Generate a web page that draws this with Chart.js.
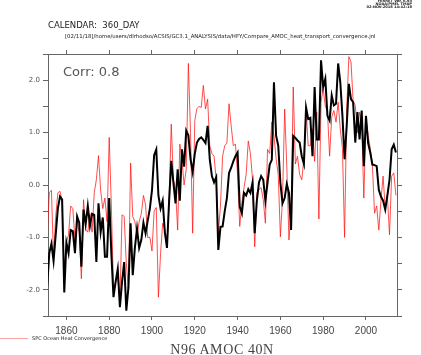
<!DOCTYPE html>
<html><head><meta charset="utf-8">
<script src="https://cdn.jsdelivr.net/npm/chart.js@4"></script>
<style>
html,body{margin:0;padding:0;background:#fff;}
#wrap{position:relative;width:421px;height:355px;overflow:hidden;background:#fff;}
canvas{position:absolute;left:0;top:0;}
.t{position:absolute;white-space:nowrap;font-family:"DejaVu Sans",sans-serif;color:#333;line-height:1;}
</style></head><body>
<div id="wrap">
<canvas id="c" width="421" height="355"></canvas>
<div class="t" style="right:9px;top:0px;font-size:3.6px;font-weight:bold;text-align:right;line-height:3.2px;color:#222;">FERRET Ver. 6.93<br>NOAA/PMEL TMAP<br>02-NOV-2018 14:42:18</div>
<div class="t" style="left:48px;top:21px;font-size:8.5px;color:#222;">CALENDAR:&nbsp; 360_DAY</div>
<div class="t" style="left:65px;top:34px;font-size:5.4px;color:#222;">[02/11/18]/home/users/dlrhodso/ACSIS/GC3.1_ANALYSIS/data/HFY/Compare_AMOC_heat_transport_convergence.jnl</div>
<div class="t" style="left:63px;top:65px;font-size:13px;color:#555;">Corr: 0.8</div>
<div style="position:absolute;left:0;top:338px;width:28px;height:1px;background:#f7a3a3;"></div>
<div class="t" style="left:32px;top:335.5px;font-size:5px;color:#222;">SPC Ocean Heat Convergence</div>
<div class="t" style="left:222px;top:343px;transform:translateX(-50%);font-family:'Liberation Serif',serif;font-size:14px;letter-spacing:0.6px;color:#444;">N96 AMOC 40N</div>
</div>
<script>
// ---- data ----
const years = [
1851,1852,1853,1854,1855,1856,1857,1858,1859,1860,
1861,1862,1863,1864,1865,1866,1867,1868,1869,1870,
1871,1872,1873,1874,1875,1876,1877,1878,1879,1880,
1881,1882,1883,1884,1885,1886,1887,1888,1889,1890,
1891,1892,1893,1894,1895,1896,1897,1898,1899,1900,
1901,1902,1903,1904,1905,1906,1907,1908,1909,1910,
1911,1912,1913,1914,1915,1916,1917,1918,1919,1920,
1921,1922,1923,1924,1925,1926,1927,1928,1929,1930,
1931,1932,1933,1934,1935,1936,1937,1938,1939,1940,
1941,1942,1943,1944,1945,1946,1947,1948,1949,1950,
1951,1952,1953,1954,1955,1956,1957,1958,1959,1960,
1961,1962,1963,1964,1965,1966,1967,1968,1969,1970,
1971,1972,1973,1974,1975,1976,1977,1978,1979,1980,
1981,1982,1983,1984,1985,1986,1987,1988,1989,1990,
1991,1992,1993,1994,1995,1996,1997,1998,1999,2000,
2001,2002,2003,2004,2005,2006,2007,2008,2009,2010,
2011,2012,2013,2014];

const amoc40N = [
-1.94,-1.30,-1.12,-1.45,-0.95,-0.45,-0.22,-0.28,-2.05,-1.10,
-1.30,-0.86,-0.88,-1.30,-0.60,-0.72,-1.56,-0.47,-0.75,-0.40,
-0.78,-0.55,-0.57,-1.47,-0.35,-0.90,-0.62,-1.37,-1.37,-0.25,
-1.30,-2.14,-1.85,-1.60,-2.33,-1.85,-1.47,-2.40,-1.95,-0.73,
-1.72,-1.20,-0.83,-1.20,-1.05,-0.72,-0.92,-0.68,-0.45,-0.10,
0.57,0.68,-0.20,-0.45,-0.30,-0.90,-1.20,-0.30,0.46,0.05,
-0.35,0.30,-0.30,0.68,0.35,1.04,0.95,0.50,0.25,0.60,
0.81,0.88,0.91,0.86,0.80,1.13,0.49,0.17,0.05,0.15,
-1.24,-0.80,-0.79,-0.50,-0.25,0.23,0.33,0.45,0.55,0.62,
-0.41,-0.54,-0.15,-0.20,-0.08,-0.15,0.05,-0.92,-0.30,0.05,
0.17,0.10,-0.30,0.05,0.39,0.48,1.96,0.94,0.75,0.04,
-0.35,-0.25,0.02,-0.15,-0.86,0.94,0.90,0.85,0.81,0.55,
0.40,1.48,1.26,1.28,0.55,1.87,0.87,0.87,2.38,1.87,
2.03,1.32,1.23,1.71,1.52,1.55,2.32,1.96,1.32,0.49,
1.13,1.93,1.64,1.58,0.81,1.39,0.87,1.42,0.36,1.32,
0.80,0.62,0.39,0.38,0.36,-0.09,-0.22,-0.30,-0.47,-0.20,
0.10,0.68,0.77,0.62];

const spcHeatConvergence = [
-1.00,-0.15,-0.10,-1.40,-0.60,-0.15,-0.12,-0.30,-1.69,-1.10,
-0.95,-0.40,-0.45,-1.05,-0.70,-0.90,-1.79,-0.28,-0.85,-0.90,
-0.55,-0.90,-0.15,0.10,0.56,-0.10,-0.45,-0.25,-0.70,0.91,
-0.40,-1.95,-1.85,-1.76,-2.25,-0.57,-0.60,-1.50,-2.00,0.42,
-0.60,-0.70,-0.95,-0.70,-0.55,-0.20,-0.38,-1.00,-1.00,-1.26,
-0.50,-0.43,-2.14,-1.31,-0.73,-0.85,-1.18,-0.28,1.16,0.10,
-0.10,-0.86,0.78,0.49,0.00,0.30,2.32,1.00,-0.92,1.23,
1.46,1.50,1.48,1.90,1.45,1.64,0.75,0.60,0.55,0.10,
-0.92,-0.40,0.55,0.75,0.80,1.55,1.13,0.75,0.78,0.20,
-0.79,-0.35,-0.05,0.20,0.84,0.60,0.10,-1.18,-0.15,-0.09,
-0.05,-0.28,-0.73,0.68,0.60,1.20,0.94,0.50,0.20,-0.99,
-0.25,1.45,0.36,-1.05,-0.50,1.87,0.40,0.55,0.20,0.10,
0.50,1.45,0.75,0.75,1.07,0.45,1.39,-0.65,1.58,1.84,
1.50,1.40,0.55,1.30,1.42,1.20,1.58,1.07,0.70,-1.00,
1.45,2.45,2.35,1.60,1.52,1.00,1.39,1.20,-0.25,1.26,
0.95,0.70,0.39,-0.54,-0.40,-0.86,-0.30,0.17,-0.45,-0.20,
-0.95,0.17,0.23,-0.20];

const xTickValues = [1860,1880,1900,1920,1940,1960,1980,2000];
const xTickLabels = ['1860','1880','1900','1920','1940','1960','1980','2000'];
const yTickValues = [-2.5,-2.0,-1.5,-1.0,-0.5,0.0,0.5,1.0,1.5,2.0,2.5];
const yTickLabels = ['','-2.0','','-1.0','','0.0','','1.0','','2.0',''];
const xRange = [1851.4, 2014.5];
const yRange = [-2.5, 2.5];

// ---- chart ----
const toPts = arr => years.map((yr, i) => ({x: yr, y: arr[i]}));
const setXTicks = s => { s.ticks = xTickValues.map(v => ({value: v})); };
const setYTicks = s => { s.ticks = yTickValues.map(v => ({value: v})); };
const axisCol = '#666';

new Chart(document.getElementById('c'), {
  type: 'line',
  data: {
    datasets: [
      {label: 'AMOC 40N', data: toPts(amoc40N), borderColor: '#000', borderWidth: 2, pointRadius: 0, tension: 0},
      {label: 'SPC Ocean Heat Convergence', data: toPts(spcHeatConvergence), borderColor: 'rgba(255,20,20,0.75)', borderWidth: 1, pointRadius: 0, tension: 0}
    ]
  },
  options: {
    responsive: false, animation: false, devicePixelRatio: 1,
    layout: {padding: {left: 0, right: 18, top: 49, bottom: 0}},
    plugins: {legend: {display: false}, tooltip: {enabled: false}},
    scales: {
      x: {type: 'linear', position: 'bottom', min: xRange[0], max: xRange[1],
          afterBuildTicks: setXTicks,
          afterFit: s => { s.height = 39; },
          ticks: {callback: (v, i) => xTickLabels[i], color: '#444', font: {family: 'Liberation Sans', size: 10}, padding: 5, maxRotation: 0, autoSkip: false},
          grid: {drawOnChartArea: false, tickLength: 4, color: axisCol},
          border: {color: axisCol, width: 1}},
      x2: {type: 'linear', position: 'top', min: xRange[0], max: xRange[1],
          afterBuildTicks: setXTicks,
          afterFit: s => { s.height = 5; },
          ticks: {display: false},
          grid: {drawOnChartArea: false, tickLength: 4, color: axisCol},
          border: {color: axisCol, width: 1}},
      y: {type: 'linear', position: 'left', min: yRange[0], max: yRange[1],
          afterBuildTicks: setYTicks,
          afterFit: s => { s.width = 48; },
          ticks: {callback: (v, i) => yTickLabels[i], color: '#555', font: {family: 'DejaVu Sans', size: 7}, padding: 3},
          grid: {drawOnChartArea: false, tickLength: 5, color: axisCol},
          border: {color: axisCol, width: 1}},
      y2: {type: 'linear', position: 'right', min: yRange[0], max: yRange[1],
          afterBuildTicks: setYTicks,
          afterFit: s => { s.width = 6; },
          ticks: {display: false},
          grid: {drawOnChartArea: false, tickLength: 5, color: axisCol},
          border: {color: axisCol, width: 1}}
    }
  }
});
</script>
</body></html>
